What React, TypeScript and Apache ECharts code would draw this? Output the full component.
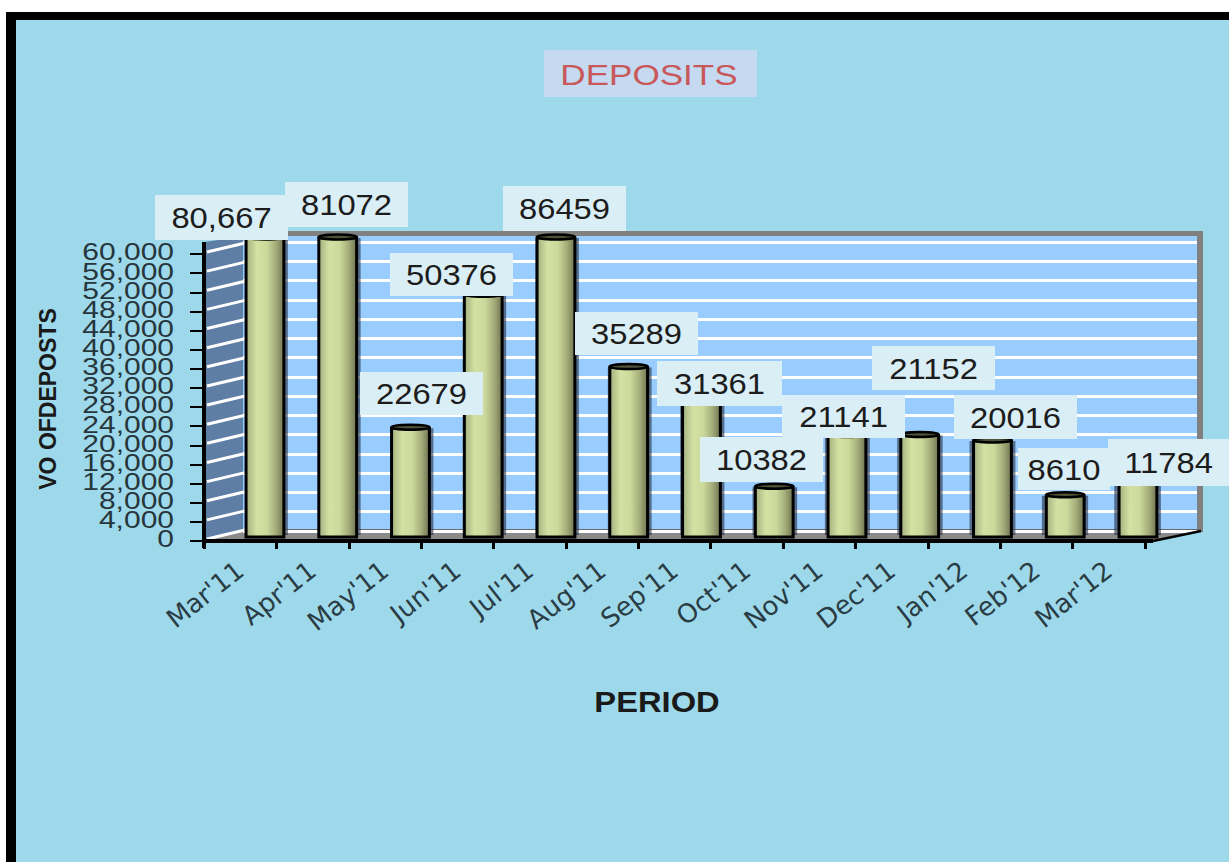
import React, { useEffect, useRef } from "react";
import * as echarts from "echarts";

const categories = ["Mar'11", "Apr'11", "May'11", "Jun'11", "Jul'11", "Aug'11", "Sep'11", "Oct'11", "Nov'11", "Dec'11", "Jan'12", "Feb'12", "Mar'12"];
const deposits = [80667, 81072, 22679, 50376, 86459, 35289, 31361, 10382, 21141, 21152, 20016, 8610, 11784];
const depositLabels = ["80,667", "81072", "22679", "50376", "86459", "35289", "31361", "10382", "21141", "21152", "20016", "8610", "11784"];
const axisTicks = [0, 4000, 8000, 12000, 16000, 20000, 24000, 28000, 32000, 36000, 40000, 44000, 48000, 52000, 56000, 60000];

// label boxes, moved by hand in the original: x0, y0, x1, y1
const labelBoxes = [
  [155, 195, 288, 240], [285, 182, 408, 227], [360, 372, 483, 415], [390, 253, 513, 296],
  [503, 186, 626, 231], [575, 312, 698, 355], [657, 361, 782, 406], [700, 437, 823, 482],
  [782, 395, 905, 438], [872, 346, 995, 390], [954, 395, 1077, 439], [1018, 448, 1110, 490],
  [1108, 439, 1229, 486],
];

const BG = "#9ED9EB";
const DEPTH_X = 38;
const DEPTH_Y = 9;

const cylinderFill = new echarts.graphic.LinearGradient(0, 0, 1, 0, [
  { offset: 0, color: "#A4AF7E" },
  { offset: 0.28, color: "#D3E2A3" },
  { offset: 0.55, color: "#CBD99B" },
  { offset: 0.8, color: "#A2AA78" },
  { offset: 1, color: "#6F7350" },
]);

const renderBar = (params: any, api: any) => {
  const i = api.value(0);
  const cs = params.coordSys;
  const [cx, yTop0] = api.coord([i, api.value(1)]);
  const yBase = api.coord([i, 0])[1];
  const yTop = Math.max(yTop0, cs.y);
  const w = api.size([1, 0])[0] * 0.52;
  const x = cx - w / 2;
  const leftShade = i * 0.4;
  return {
    type: "group",
    children: [
      { type: "rect", shape: { x: x - leftShade, y: yTop, width: w + 4 + leftShade, height: yBase - yTop - 2 }, style: { fill: "rgba(35,45,65,0.6)" } },
      { type: "rect", shape: { x, y: yTop, width: w, height: yBase - yTop }, style: { fill: cylinderFill, stroke: "#000", lineWidth: 3 } },
      { type: "ellipse", shape: { cx, cy: yTop - 1, rx: w / 2, ry: 2.5 }, style: { fill: "#4E5338", stroke: "#000", lineWidth: 2.5 } },
    ],
  };
};

const renderLabel = (_params: any, api: any) => {
  const i = api.value(0);
  const [x0, y0, x1, y1] = labelBoxes[i];
  return {
    type: "group",
    children: [
      { type: "rect", shape: { x: x0, y: y0, width: x1 - x0, height: y1 - y0 }, style: { fill: "#DAEEF5" } },
      {
        type: "text",
        x: (x0 + x1) / 2,
        y: (y0 + y1) / 2 + 1,
        scaleX: 1.13,
        style: { text: depositLabels[i], align: "center", verticalAlign: "middle", fontFamily: "Liberation Sans", fontSize: 29, fill: "#1c1c1c" },
      },
    ],
  };
};

// left wall stripe and the tick's text; the axis's own labels would be thinned out at this spacing
const renderTick = (params: any, api: any) => {
  const value = api.value(0);
  const x = params.coordSys.x + 3;
  const y = api.coord([0, value])[1] - 2;
  return {
    type: "group",
    children: [
      { type: "line", shape: { x1: x, y1: y, x2: x + DEPTH_X, y2: y - DEPTH_Y }, style: { stroke: "#FFFFFF", lineWidth: 3 } },
      {
        type: "text",
        x: 174,
        y,
        scaleX: 1.25,
        style: { text: value.toLocaleString("en-US"), align: "right", verticalAlign: "middle", fontFamily: "Liberation Sans", fontSize: 24, fill: "#26363C" },
      },
    ],
  };
};

export default function App() {
  const ref = useRef<HTMLDivElement>(null);
  useEffect(() => {
    document.body.style.margin = "0";
    const chart = echarts.init(ref.current!, undefined, { renderer: "svg" });
    chart.setOption({
      animation: false,
      backgroundColor: "#FFFFFF",
      grid: [
        { left: 204, top: 254, width: 941, height: 287 },
        { left: 243, top: 242, width: 954, height: 289 },
        { left: 228.6, top: 238, width: 945.75, height: 299 },
      ],
      xAxis: [
        {
          gridIndex: 0,
          type: "category",
          data: categories,
          z: 3,
          axisLine: { lineStyle: { color: "#000", width: 4 } },
          axisTick: { show: true, length: 8, lineStyle: { color: "#000", width: 3 } },
          axisLabel: { interval: 0, rotate: 38, margin: 26, fontFamily: "DejaVu Sans", fontSize: 26, color: "#2A3C44" },
        },
        { gridIndex: 1, type: "category", data: categories, show: false },
        { gridIndex: 2, type: "category", data: categories, show: false },
      ],
      yAxis: [
        {
          gridIndex: 0,
          type: "value",
          min: 0,
          max: 60000,
          interval: 4000,
          z: 3,
          splitLine: { show: false },
          axisLine: { show: true, lineStyle: { color: "#000", width: 4 } },
          axisTick: { show: true, length: 14, lineStyle: { color: "#000", width: 2 } },
          axisLabel: { show: false },
        },
        {
          gridIndex: 1,
          type: "value",
          min: 0,
          max: 60000,
          interval: 4000,
          z: 1,
          axisLine: { show: false },
          axisTick: { show: false },
          axisLabel: { show: false },
          splitLine: { show: true, lineStyle: { color: "#FFFFFF", width: 3 } },
        },
        { gridIndex: 2, type: "value", min: 0, max: 62292, show: false, splitLine: { show: false } },
      ],
      series: [
        { type: "custom", xAxisIndex: 0, yAxisIndex: 0, z: 2, renderItem: renderTick, data: axisTicks.map((v) => [v]), encode: { y: 0 }, silent: true },
        { type: "custom", xAxisIndex: 2, yAxisIndex: 2, z: 5, renderItem: renderBar, data: deposits.map((v, i) => [i, v]), encode: { x: 0, y: 1 } },
        { type: "custom", xAxisIndex: 2, yAxisIndex: 2, z: 8, renderItem: renderLabel, data: deposits.map((v, i) => [i, v]), encode: { x: 0, y: 1 } },
      ],
      graphic: [
        { type: "rect", z: -10, shape: { x: 6, y: 12, width: 1223, height: 850 }, style: { fill: "#000" } },
        { type: "rect", z: -9, shape: { x: 16, y: 20, width: 1213, height: 842 }, style: { fill: BG } },
        { type: "rect", z: -8, shape: { x: 243, y: 231, width: 960, height: 301 }, style: { fill: "#808080" } },
        { type: "rect", z: -7, shape: { x: 243, y: 236, width: 954, height: 294 }, style: { fill: "#99CCFF" } },
        { type: "polygon", z: -6, shape: { points: [[205, 242], [243, 236], [243, 530], [205, 541]] }, style: { fill: "#5F7EA5" } },
        { type: "polygon", z: -6, shape: { points: [[205, 541], [243, 529], [1203, 529], [1153, 541]] }, style: { fill: "#8A8A8A" } },
        { type: "rect", z: -5, shape: { x: 243, y: 529, width: 958, height: 3 }, style: { fill: "#6A6A6A" } },
        { type: "line", z: 3, shape: { x1: 204, y1: 242, x2: 204, y2: 548 }, style: { stroke: "#000", lineWidth: 4 } },
        { type: "line", z: 3, shape: { x1: 1145, y1: 541, x2: 1153, y2: 541 }, style: { stroke: "#000", lineWidth: 4 } },
        { type: "line", z: 3, shape: { x1: 1153, y1: 541, x2: 1201, y2: 531 }, style: { stroke: "#000", lineWidth: 2.5 } },
        { type: "rect", z: 9, shape: { x: 544, y: 50, width: 213, height: 47 }, style: { fill: "#C5D9F1" } },
        { type: "text", z: 10, x: 649, y: 74, scaleX: 1.17, style: { text: "DEPOSITS", align: "center", verticalAlign: "middle", fontFamily: "Liberation Sans", fontSize: 30, fill: "#C8585A" } },
        { type: "text", z: 10, x: 657, y: 702, scaleX: 1.09, style: { text: "PERIOD", align: "center", verticalAlign: "middle", fontFamily: "Liberation Sans", fontWeight: "bold", fontSize: 30, fill: "#1A1A1A" } },
        { type: "text", z: 10, x: 48, y: 399, rotation: Math.PI / 2, style: { text: "VO OFDEPOSTS", align: "center", verticalAlign: "middle", fontFamily: "Liberation Sans", fontWeight: "bold", fontSize: 23, fill: "#1A1A1A" } },
      ],
    });
    return () => chart.dispose();
  }, []);
  return <div ref={ref} style={{ width: 1229, height: 862 }} />;
}
